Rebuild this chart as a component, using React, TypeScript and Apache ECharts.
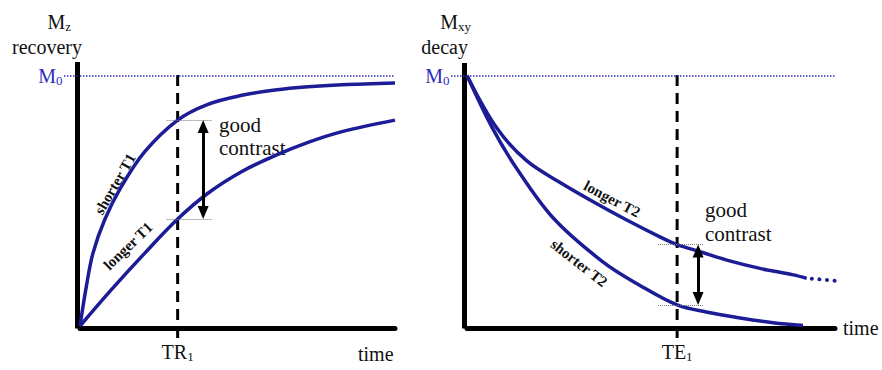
import React, { useEffect, useRef } from "react";
import * as echarts from "echarts";

const SERIF = "'Liberation Serif', 'Times New Roman', serif";
const CURVE_BLUE = "#1c1c96";
const M0_BLUE = "#2f2fb8";
const INK = "#111111";

// ---- Left panel: Mz recovery (time in arbitrary units, 0–10; Mz as fraction of M0)
const tr1 = 3.1;
const shorterT1Time = [0, 0.2, 0.41, 0.78, 1.31, 2.05, 3.1, 4.06, 5.14, 6.19, 7.24, 8.32, 10];
const shorterT1Mz = [0, 0.157, 0.29, 0.423, 0.556, 0.695, 0.822, 0.885, 0.921, 0.942, 0.955, 0.963, 0.97];
const longerT1Time = [0, 0.99, 2.05, 3.1, 4.06, 5.14, 6.19, 7.24, 8.32, 10];
const longerT1Mz = [0, 0.144, 0.29, 0.427, 0.53, 0.617, 0.68, 0.733, 0.776, 0.822];
const trArrowTime = 3.91;
const trGuideTime = [2.75, 4.18];

// ---- Right panel: Mxy decay
const te1 = 5.71;
const longerT2Time = [0, 0.81, 1.62, 2.53, 3.43, 4.34, 5.24, 5.71, 6.33, 7.06, 7.96, 8.87, 9.23];
const longerT2Mxy = [1, 0.79, 0.66, 0.573, 0.496, 0.423, 0.356, 0.325, 0.297, 0.263, 0.23, 0.204, 0.19];
const longerT2TailTime = [9.37, 10.18];
const longerT2TailMxy = [0.189, 0.178];
const shorterT2Time = [0, 0.67, 1.3, 2.35, 3.7, 4.7, 5.71, 6.5, 7.42, 8.32, 9.13];
const shorterT2Mxy = [1, 0.796, 0.64, 0.43, 0.255, 0.162, 0.084, 0.056, 0.032, 0.013, 0.002];
const teArrowTime = 6.28;
const teGuideTime = [5.19, 6.41];

// vertical extent of the TR / TE marker lines (they poke past both ends of the plot)
const markerSpan = [-0.048, 1.022];
const arrowInset = 0.026;

const pairs = (xs: number[], ys: number[]) => xs.map((x, i) => [x, ys[i]]);
const valueAt = (xs: number[], ys: number[], x: number) => ys[xs.indexOf(x)];

const subRich = (color: string) => ({
  m: { fontSize: 20, fontFamily: SERIF, color },
  s: { fontSize: 13, fontFamily: SERIF, color, padding: [9, 0, 0, 0] },
});

function makeX(gridIndex: number, marker: number, name: string) {
  return {
    type: "value",
    gridIndex,
    min: 0,
    max: 10,
    offset: 2.5,
    axisLine: { show: true, onZero: false, lineStyle: { color: "#000", width: 5 } },
    axisTick: { show: false },
    splitLine: { show: false },
    axisLabel: {
      show: true,
      customValues: [marker],
      margin: 12,
      formatter: () => `{m|${name}}{s|1}`,
      rich: subRich(INK),
    },
  };
}

function makeY(gridIndex: number, max: number) {
  return {
    type: "value",
    gridIndex,
    min: 0,
    max,
    offset: 2.5,
    axisLine: { show: true, onZero: false, lineStyle: { color: "#000", width: 5, cap: "square" } },
    axisTick: {
      show: true,
      customValues: [1],
      length: 14.5,
      lineStyle: { color: M0_BLUE, width: 1.5, type: "dotted" },
    },
    splitLine: { show: false },
    axisLabel: {
      show: true,
      customValues: [1],
      margin: 15,
      formatter: () => "{m|M}{s|0}",
      rich: subRich(M0_BLUE),
    },
  };
}

const curve = (idx: number, xs: number[], ys: number[]) => ({
  type: "line",
  xAxisIndex: idx,
  yAxisIndex: idx,
  data: pairs(xs, ys),
  smooth: 0.35,
  symbol: "none",
  lineStyle: { color: CURVE_BLUE, width: 3.5 },
  z: 3,
});

const m0Line = {
  silent: true,
  symbol: ["none", "none"],
  label: { show: false },
  lineStyle: { color: M0_BLUE, type: "dotted", width: 1.5 },
  data: [{ yAxis: 1 }],
};

const guideStyle = { color: "#777", width: 1, type: "dotted" };
const arrowStyle = { color: "#000", width: 3, type: "solid" };

function contrastMarks(arrowX: number, guides: number[], hi: number, lo: number) {
  const tip = { symbol: "triangle", symbolSize: [11, 13] };
  return {
    silent: true,
    symbol: ["none", "none"],
    label: { show: false },
    itemStyle: { color: "#000" },
    data: [
      [
        { coord: [guides[0], hi], lineStyle: guideStyle },
        { coord: [guides[1], hi], lineStyle: guideStyle },
      ],
      [
        { coord: [guides[0], lo], lineStyle: guideStyle },
        { coord: [guides[1], lo], lineStyle: guideStyle },
      ],
      [
        { coord: [arrowX, hi - arrowInset], lineStyle: arrowStyle, ...tip },
        { coord: [arrowX, lo + arrowInset], lineStyle: arrowStyle, ...tip },
      ],
    ],
  };
}

const markerLine = (idx: number, at: number, hi: number, lo: number, arrowX: number, guides: number[]) => ({
  type: "line",
  xAxisIndex: idx,
  yAxisIndex: idx,
  data: [
    [at, markerSpan[0]],
    [at, markerSpan[1]],
  ],
  symbol: "none",
  clip: false,
  lineStyle: { color: "#000", width: 3, type: [11, 7] },
  z: 2,
  markLine: contrastMarks(arrowX, guides, hi, lo),
});

const trHi = valueAt(shorterT1Time, shorterT1Mz, tr1);
const trLo = valueAt(longerT1Time, longerT1Mz, tr1);
const teHi = valueAt(longerT2Time, longerT2Mxy, te1);
const teLo = valueAt(shorterT2Time, shorterT2Mxy, te1);

const txt = (x: number, y: number, text: string, extra: any = {}, rot = 0) => ({
  type: "text",
  x,
  y,
  rotation: rot,
  silent: true,
  style: {
    text,
    fill: INK,
    fontFamily: SERIF,
    fontSize: 20,
    fontWeight: "normal",
    align: "left",
    verticalAlign: "middle",
    ...extra,
  },
});

const curveLabel = { fontSize: 15, fontWeight: "bold", align: "center" };
const contrastLabel = { fontSize: 21, lineHeight: 23 };
const deg = (d: number) => (d * Math.PI) / 180;

const option = {
  animation: false,
  backgroundColor: "#ffffff",
  textStyle: { fontFamily: SERIF },
  grid: [
    { left: 80, right: 487, top: 64.5, bottom: 44 },
    { left: 467, right: 47, top: 65.5, bottom: 44 },
  ],
  xAxis: [makeX(0, tr1, "TR"), makeX(1, te1, "TE")],
  yAxis: [makeY(0, 1.044), makeY(1, 1.04)],
  series: [
    { ...curve(0, shorterT1Time, shorterT1Mz), markLine: m0Line },
    curve(0, longerT1Time, longerT1Mz),
    markerLine(0, tr1, trHi, trLo, trArrowTime, trGuideTime),
    { ...curve(1, longerT2Time, longerT2Mxy), markLine: m0Line },
    curve(1, shorterT2Time, shorterT2Mxy),
    {
      type: "line",
      xAxisIndex: 1,
      yAxisIndex: 1,
      data: pairs(longerT2TailTime, longerT2TailMxy),
      symbol: "none",
      clip: false,
      lineStyle: { color: CURVE_BLUE, width: 4, type: [0.1, 7.5], cap: "round" },
      z: 3,
    },
    markerLine(1, te1, teHi, teLo, teArrowTime, teGuideTime),
  ],
  graphic: {
    elements: [
      // left panel titles
      txt(71, 22, "{m|M}{s|z}", { align: "right", rich: subRich(INK) }),
      txt(82, 47, "recovery", { align: "right" }),
      txt(358, 354, "time"),
      txt(219, 136, "good\ncontrast", contrastLabel),
      txt(115, 184, "shorter T1", curveLabel, deg(60)),
      txt(128, 246, "longer T1", curveLabel, deg(44)),
      // right panel titles
      txt(471, 22, "{m|M}{s|xy}", { align: "right", rich: subRich(INK) }),
      txt(468, 47, "decay", { align: "right" }),
      txt(843, 328, "time"),
      txt(705, 222, "good\ncontrast", { ...contrastLabel, lineHeight: 24 }),
      txt(612, 199, "longer T2", curveLabel, deg(-28)),
      txt(579, 263, "shorter T2", curveLabel, deg(-38)),
    ],
  },
};

export default function App() {
  const ref = useRef<HTMLDivElement>(null);
  useEffect(() => {
    const chart = echarts.init(ref.current!, undefined, { renderer: "svg" });
    chart.setOption(option as any);
    return () => chart.dispose();
  }, []);
  return (
    <div
      ref={ref}
      style={{ position: "fixed", left: 0, top: 0, width: 882, height: 370, background: "#fff" }}
    />
  );
}
